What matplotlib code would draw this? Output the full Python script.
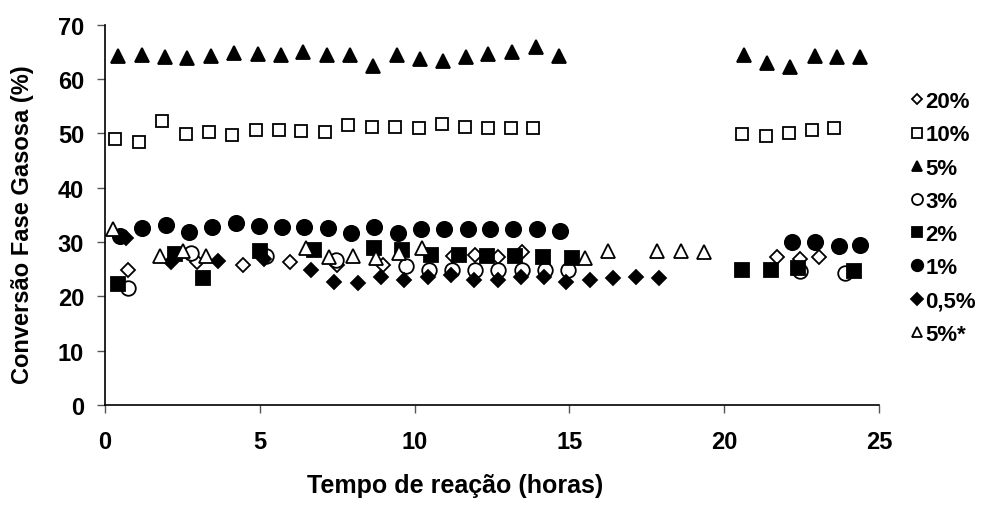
import matplotlib
matplotlib.use("Agg")
import matplotlib.pyplot as plt

# ---- data ----
t_20 = [0.74, 2.97, 4.47, 5.98, 7.48, 8.97, 11.23, 11.96, 12.71, 13.46, 21.70, 22.46, 23.05]
c_20 = [24.9, 26.3, 25.8, 26.3, 25.8, 25.7, 27.4, 27.6, 27.2, 28.1, 27.2, 26.8, 27.2]

t_10 = [0.32, 1.10, 1.85, 2.60, 3.35, 4.11, 4.86, 5.61, 6.34, 7.09, 7.84, 8.63, 9.38,
        10.13, 10.88, 11.64, 12.36, 13.11, 13.81, 20.58, 21.34, 22.09, 22.84, 23.54]
c_10 = [49.0, 48.4, 52.3, 49.9, 50.3, 49.7, 50.6, 50.6, 50.5, 50.2, 51.5, 51.2, 51.2,
        51.0, 51.7, 51.2, 51.0, 50.9, 50.9, 49.8, 49.5, 50.1, 50.7, 50.9]

t_5 = [0.42, 1.19, 1.93, 2.64, 3.43, 4.18, 4.94, 5.69, 6.41, 7.16, 7.92, 8.67, 9.42,
       10.17, 10.92, 11.66, 12.36, 13.15, 13.92, 14.66, 20.63, 21.39, 22.14, 22.95, 23.65, 24.40]
c_5 = [64.2, 64.5, 64.1, 63.9, 64.3, 64.8, 64.7, 64.4, 64.9, 64.4, 64.4, 62.5, 64.4,
       63.7, 63.4, 64.0, 64.7, 64.9, 65.9, 64.3, 64.5, 63.0, 62.2, 64.3, 64.1, 64.1]

t_3 = [0.74, 2.79, 5.20, 7.46, 9.72, 10.47, 11.20, 11.96, 12.71, 13.46, 14.22, 14.97, 22.46, 23.90]
c_3 = [21.5, 28.0, 27.4, 26.6, 25.5, 24.9, 24.9, 24.9, 24.9, 24.9, 24.9, 24.9, 24.7, 24.3]

t_2 = [0.42, 2.25, 3.16, 4.99, 6.76, 8.68, 9.59, 10.53, 11.42, 12.33, 13.25, 14.16, 15.08,
       20.58, 21.50, 22.40, 24.20]
c_2 = [22.3, 27.8, 23.3, 28.4, 28.5, 28.9, 28.5, 27.6, 27.6, 27.5, 27.4, 27.2, 27.0,
       24.9, 24.9, 25.2, 24.7]

t_1 = [0.48, 1.20, 1.96, 2.71, 3.46, 4.22, 4.97, 5.72, 6.44, 7.19, 7.95, 8.70, 9.45,
       10.20, 10.96, 11.71, 12.44, 13.19, 13.95, 14.70, 22.20, 22.95, 23.70, 24.40]
c_1 = [31.1, 32.5, 33.1, 31.8, 32.7, 33.5, 33.0, 32.7, 32.7, 32.6, 31.7, 32.7, 31.6,
       32.4, 32.4, 32.4, 32.4, 32.4, 32.4, 32.1, 30.0, 30.0, 29.3, 29.5]

t_05 = [0.69, 2.14, 3.65, 5.15, 6.66, 7.41, 8.16, 8.92, 9.67, 10.42, 11.17, 11.93, 12.68,
        13.43, 14.18, 14.90, 15.66, 16.41, 17.16, 17.90]
c_05 = [30.7, 26.3, 26.4, 26.9, 24.9, 22.6, 22.5, 23.5, 23.0, 23.5, 23.9, 23.0, 23.0,
        23.5, 23.5, 22.6, 22.9, 23.3, 23.5, 23.3]

t_5s = [0.26, 1.76, 2.52, 3.27, 6.50, 7.25, 8.00, 8.75, 9.50, 10.24, 15.50, 16.26, 17.84, 18.60, 19.35]
c_5s = [32.3, 27.5, 28.4, 27.5, 28.9, 27.2, 27.4, 27.0, 28.0, 28.9, 27.1, 28.3, 28.3, 28.3, 28.1]

labels = ["20%", "10%", "5%", "3%", "2%", "1%", "0,5%", "5%*"]

plt.rcParams["font.family"] = ["Liberation Sans", "DejaVu Sans"]
plt.rcParams["font.weight"] = "bold"

fig = plt.figure(figsize=(9.82, 5.06), dpi=100)
ax = fig.add_axes([0.107, 0.198, 0.788, 0.751])

# (x, y, marker, size, filled)
series = [
    (t_20, c_20, "D", 7.0, False),
    (t_10, c_10, "s", 9.0, False),
    (t_5, c_5, "^", 10.5, True),
    (t_3, c_3, "o", 10.5, False),
    (t_2, c_2, "s", 10.0, True),
    (t_1, c_1, "o", 11.0, True),
    (t_05, c_05, "D", 7.5, True),
    (t_5s, c_5s, "^", 10.5, False),
]

for (x, y, m, ms, filled), lab in zip(series, labels):
    ax.plot(x, y, linestyle="none", marker=m, markersize=ms,
            markerfacecolor="black" if filled else "white",
            markeredgecolor="black", markeredgewidth=1.3, label=lab)

ax.set_xlim(0, 25)
ax.set_ylim(0, 70)
ax.set_xticks([0, 5, 10, 15, 20, 25])
ax.set_yticks(range(0, 71, 10))
ax.tick_params(direction="out", length=6, width=1, colors="#555555",
               labelcolor="black", labelsize=17)
ax.tick_params(axis="x", pad=12)
ax.tick_params(axis="y", pad=9)
for s in ["top", "right"]:
    ax.spines[s].set_visible(False)
for s in ["left", "bottom"]:
    ax.spines[s].set_linewidth(1.2)

ax.set_xlabel("Tempo de reação (horas)", fontsize=18, fontweight="bold")
ax.set_ylabel("Conversão Fase Gasosa (%)", fontsize=17, fontweight="bold")
ax.xaxis.set_label_coords(0.453, -0.18)
ax.yaxis.set_label_coords(-0.092, 0.476)

fig.legend(loc="upper left", bbox_to_anchor=(0.929, 0.818), frameon=False,
           markerscale=0.75, handlelength=0.4, handletextpad=0.2,
           labelspacing=0.55, borderpad=0, borderaxespad=0,
           prop={"size": 16, "weight": "bold"})

fig.savefig("out.png", dpi=100)
